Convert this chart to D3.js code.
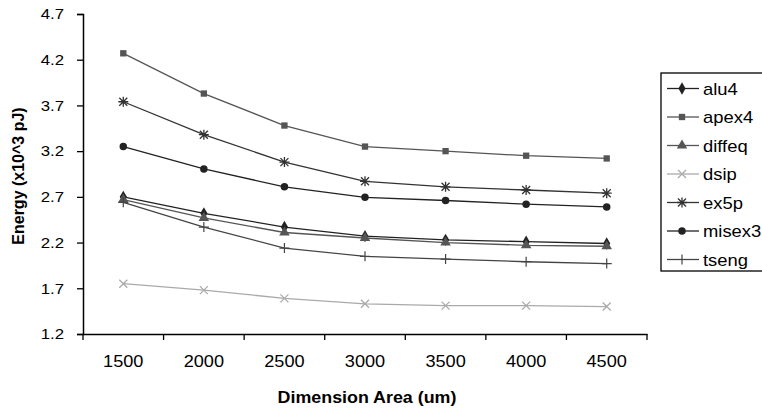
<!DOCTYPE html>
<html>
<head>
<meta charset="utf-8">
<script src="https://cdn.jsdelivr.net/npm/d3@7"></script>
<style>
  body { margin: 0; background: #fff; }
  text { font-family: "Liberation Sans", Arial, sans-serif; }
</style>
</head>
<body>
<script>
// categories on the x axis
var areas = ["1500", "2000", "2500", "3000", "3500", "4000", "4500"];
var yTicks = [1.2, 1.7, 2.2, 2.7, 3.2, 3.7, 4.2, 4.7];

// energy values (x10^3 pJ)
var alu4   = [2.70, 2.52, 2.37, 2.27, 2.23, 2.21, 2.19];
var apex4  = [4.27, 3.83, 3.48, 3.25, 3.20, 3.15, 3.12];
var diffeq = [2.67, 2.47, 2.31, 2.25, 2.20, 2.17, 2.16];
var dsip   = [1.75, 1.68, 1.59, 1.53, 1.51, 1.51, 1.50];
var ex5p   = [3.74, 3.38, 3.08, 2.87, 2.81, 2.775, 2.74];
var misex3 = [3.25, 3.005, 2.81, 2.695, 2.66, 2.62, 2.59];
var tseng  = [2.64, 2.37, 2.14, 2.05, 2.02, 1.99, 1.97];

var seriesNames = ["alu4", "apex4", "diffeq", "dsip", "ex5p", "misex3", "tseng"];
var seriesValues = [alu4, apex4, diffeq, dsip, ex5p, misex3, tseng];

// styling per series
var styles = {
  alu4:   {line: "#222", marker: "diamond",  fill: "#222"},
  apex4:  {line: "#555", marker: "square",   fill: "#555"},
  diffeq: {line: "#555", marker: "triangle", fill: "#555"},
  dsip:   {line: "#aaa", marker: "cross",    fill: "#aaa"},
  ex5p:   {line: "#333", marker: "star",     fill: "#333"},
  misex3: {line: "#222", marker: "circle",   fill: "#222"},
  tseng:  {line: "#444", marker: "plus",     fill: "#444"}
};

var W = 762, H = 408;
var margin = {top: 14, left: 83};
var w = 647 - margin.left, h = 334 - margin.top;
var stretch = 1.12;   // the source text is a bit wider than Arial

var svg = d3.select("body").append("svg")
    .attr("width", W)
    .attr("height", H);

var g = svg.append("g")
    .attr("transform", "translate(" + margin.left + "," + margin.top + ")");

var x = d3.scaleBand().domain(areas).range([0, w]);
var y = d3.scaleLinear().domain([1.2, 4.7]).range([h, 0]);

// x axis
var xAxis = g.append("g")
    .attr("transform", "translate(0," + h + ")")
    .call(d3.axisBottom(x).tickSize(0).tickPadding(0));
xAxis.select(".domain").attr("stroke", "#000").attr("stroke-width", 1.5);
xAxis.selectAll(".tick text")
    .attr("dy", null)
    .attr("y", 0)
    .attr("transform", "translate(0,33) scale(1.1,1)")
    .attr("font-size", "16.5px")
    .attr("fill", "#000");
// separators between categories
xAxis.selectAll(".sep")
    .data(d3.range(areas.length + 1))
    .enter().append("line")
    .attr("x1", function(i) { return i * x.bandwidth(); })
    .attr("x2", function(i) { return i * x.bandwidth(); })
    .attr("y1", 0).attr("y2", 6)
    .attr("stroke", "#000").attr("stroke-width", 1.3);

// y axis
var yAxis = g.append("g")
    .call(d3.axisLeft(y).tickValues(yTicks).tickFormat(d3.format(".1f")).tickSize(6));
yAxis.select(".domain").attr("stroke", "#000").attr("stroke-width", 1.5);
yAxis.selectAll(".tick line").attr("stroke", "#000").attr("stroke-width", 1.3);
yAxis.selectAll(".tick text")
    .attr("x", 0)
    .attr("transform", "translate(-19,0) scale(" + stretch + ",1)")
    .attr("font-size", "15px")
    .attr("fill", "#000");

// axis titles
svg.append("text")
    .attr("transform", "translate(367,403) scale(1.05,1)")
    .attr("text-anchor", "middle")
    .attr("font-size", "17px").attr("font-weight", "bold")
    .text("Dimension Area (um)");

svg.append("text")
    .attr("transform", "translate(23.5,176) rotate(-90)")
    .attr("text-anchor", "middle")
    .attr("font-size", "16px").attr("font-weight", "bold")
    .text("Energy (x10^3 pJ)");

// marker drawing
function drawMarker(sel, type, color) {
  if (type === "diamond") {
    sel.append("path").attr("d", d3.symbol().type(d3.symbolDiamond).size(44)).attr("fill", color);
  } else if (type === "square") {
    sel.append("path").attr("d", d3.symbol().type(d3.symbolSquare).size(40)).attr("fill", color);
  } else if (type === "triangle") {
    sel.append("path").attr("d", d3.symbol().type(d3.symbolTriangle).size(48)).attr("fill", color);
  } else if (type === "circle") {
    sel.append("path").attr("d", d3.symbol().type(d3.symbolCircle).size(44)).attr("fill", color);
  } else if (type === "cross") {
    sel.append("path").attr("d", "M-4,-4L4,4M-4,4L4,-4").attr("stroke", color).attr("stroke-width", 1.3).attr("fill", "none");
  } else if (type === "plus") {
    sel.append("path").attr("d", "M-5,0L5,0M0,-5L0,5").attr("stroke", color).attr("stroke-width", 1.2).attr("fill", "none");
  } else if (type === "star") {
    sel.append("path").attr("d", "M-4,-4L4,4M-4,4L4,-4M0,-5L0,5M-5,0L5,0").attr("stroke", color).attr("stroke-width", 1.3).attr("fill", "none");
  }
}

var line = d3.line()
    .x(function(d, i) { return x(areas[i]) + x.bandwidth() / 2; })
    .y(function(d) { return y(d); });

seriesNames.forEach(function(name, k) {
  var vals = seriesValues[k];
  var st = styles[name];
  g.append("path")
      .datum(vals)
      .attr("d", line)
      .attr("fill", "none")
      .attr("stroke", st.line)
      .attr("stroke-width", 1.3);
  g.selectAll(".m-" + name)
      .data(vals)
      .enter().append("g")
      .attr("class", "m-" + name)
      .attr("transform", function(d, i) {
        return "translate(" + (x(areas[i]) + x.bandwidth() / 2) + "," + y(d) + ")";
      })
      .each(function() { drawMarker(d3.select(this), st.marker, st.fill); });
});

// legend
var legend = svg.append("g").attr("transform", "translate(661,73)");
legend.append("rect")
    .attr("x", 0).attr("y", 0)
    .attr("width", 120).attr("height", 198)
    .attr("fill", "#fff").attr("stroke", "#000").attr("stroke-width", 1.3);

var items = legend.selectAll(".item")
    .data(seriesNames)
    .enter().append("g")
    .attr("transform", function(d, i) { return "translate(0," + (15.5 + i * 28.5) + ")"; });
items.append("line")
    .attr("x1", 6).attr("x2", 38).attr("y1", 0).attr("y2", 0)
    .attr("stroke", function(d) { return styles[d].line; })
    .attr("stroke-width", 1.3);
items.append("g")
    .attr("transform", "translate(21,0)")
    .each(function(d) { drawMarker(d3.select(this), styles[d].marker, styles[d].fill); });
items.append("text")
    .attr("transform", "translate(42,6) scale(1.15,1)")
    .attr("font-size", "16px")
    .text(function(d) { return d; });
</script>
</body>
</html>
